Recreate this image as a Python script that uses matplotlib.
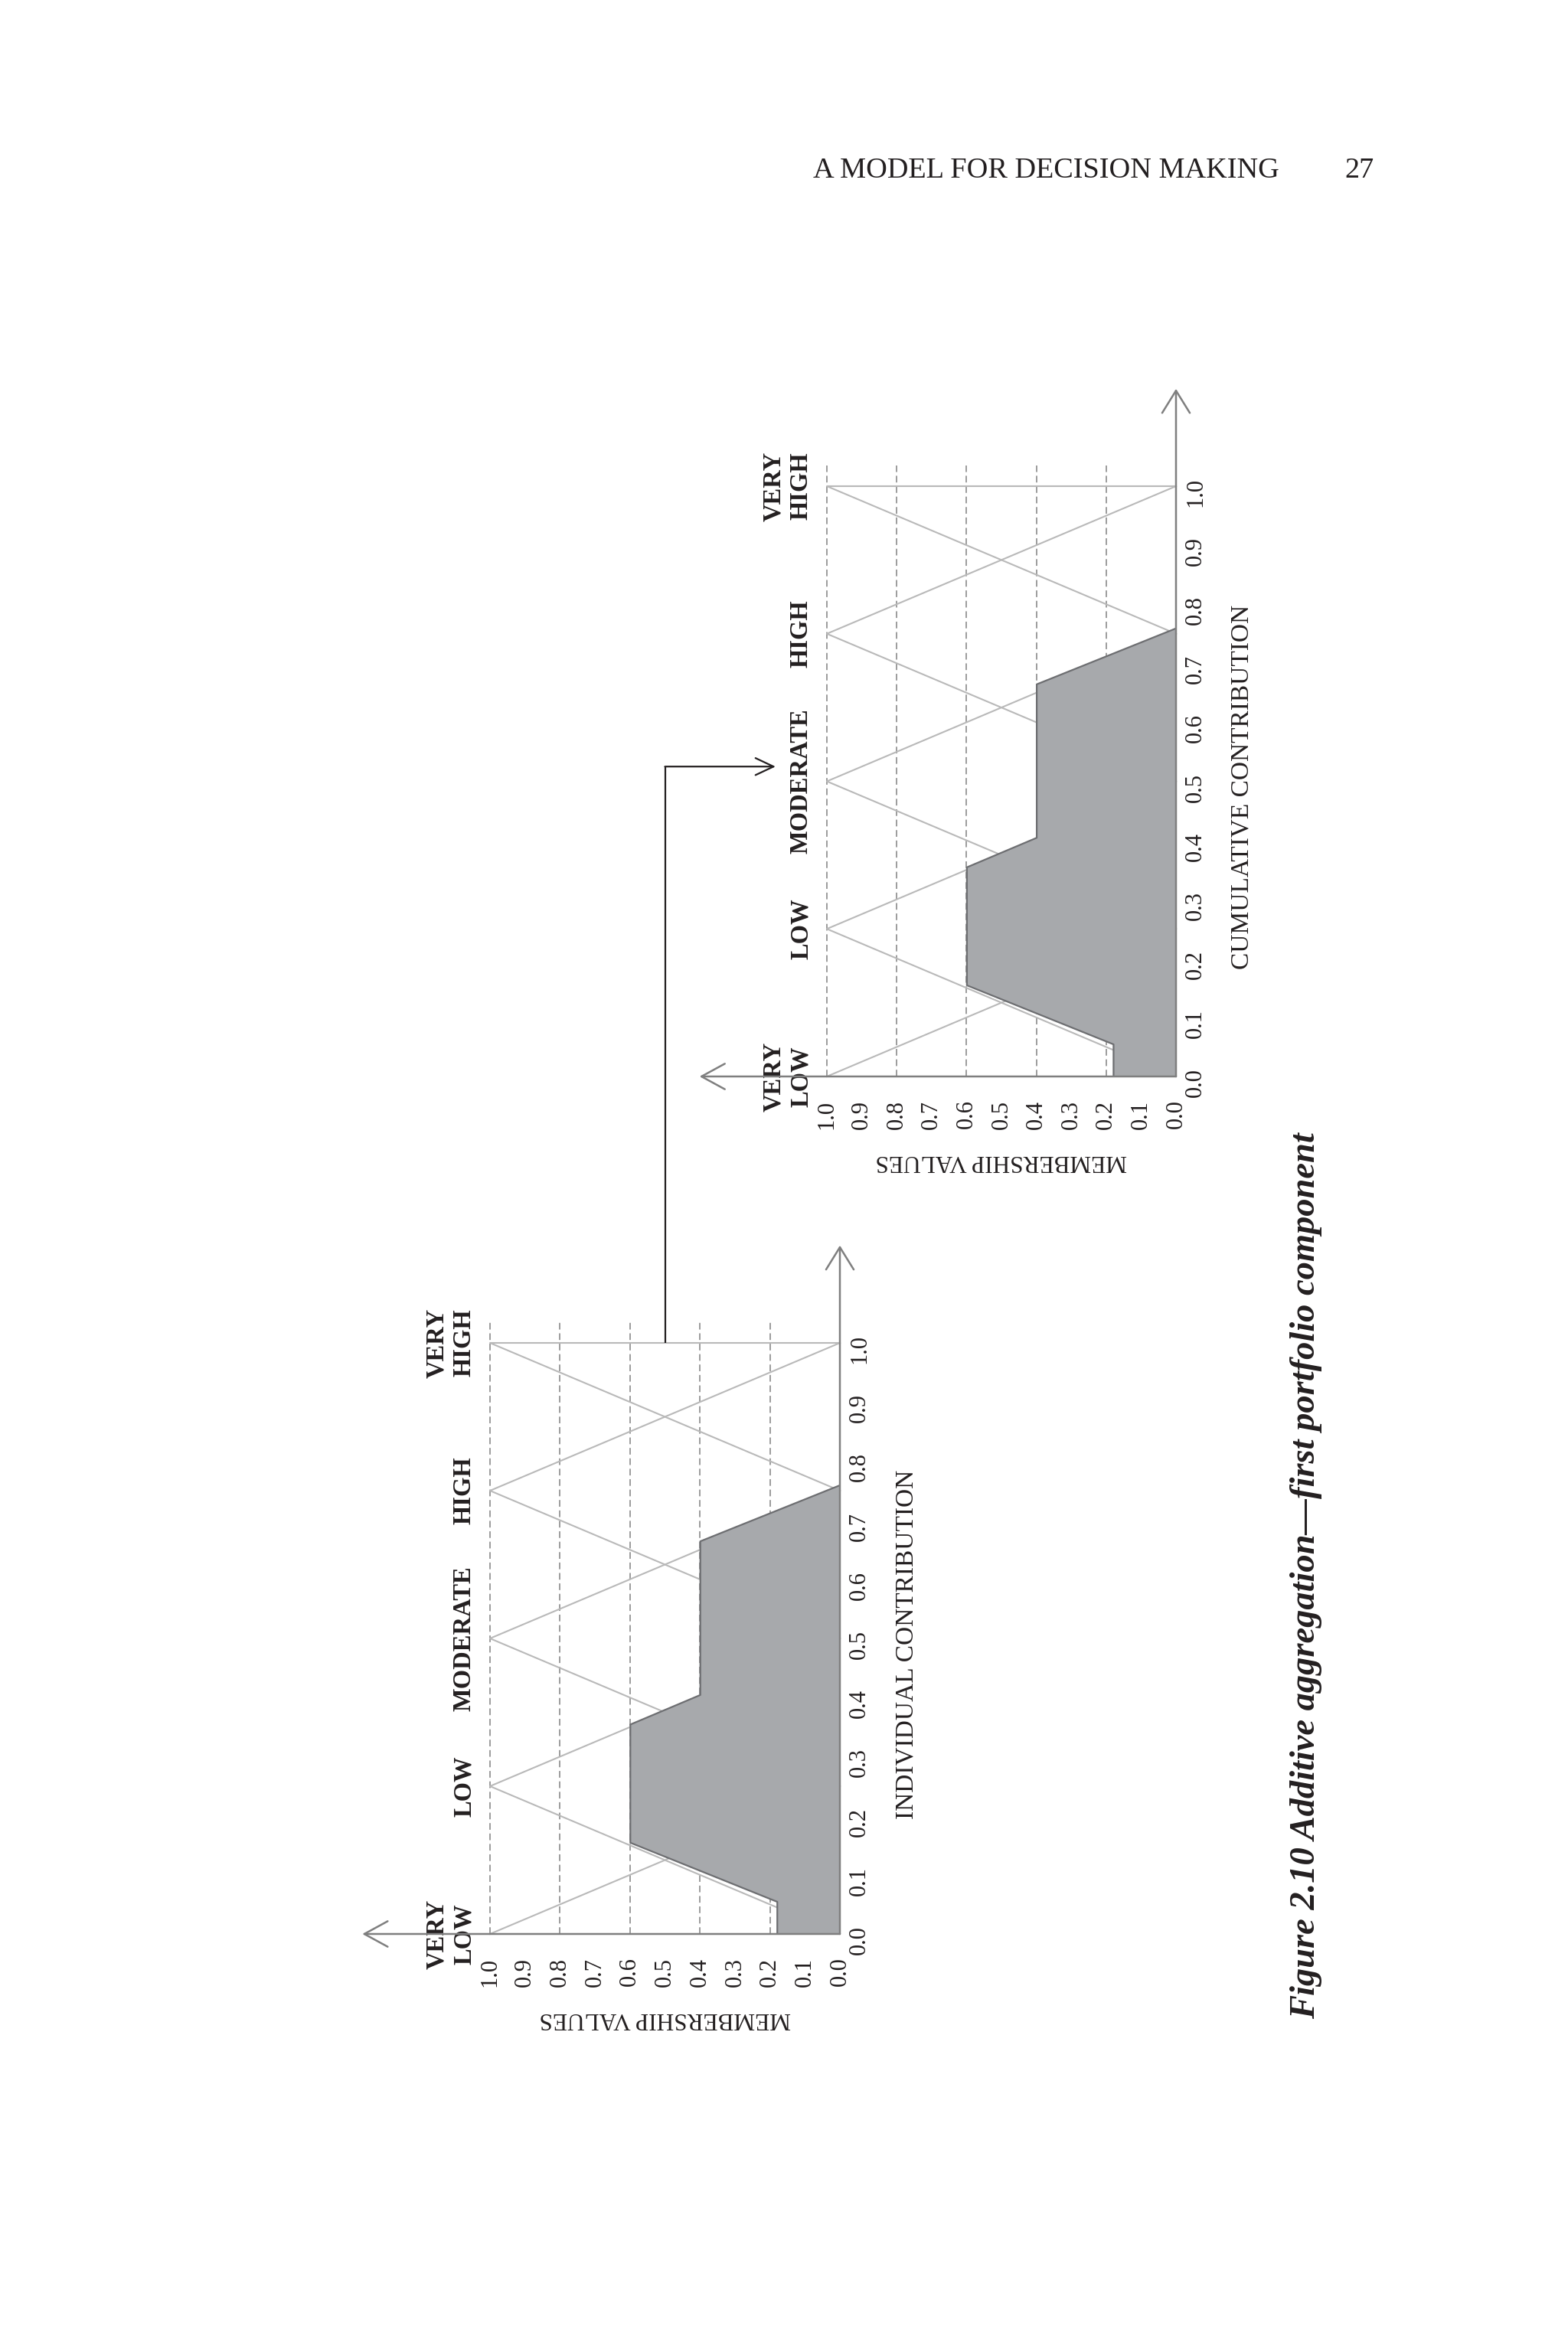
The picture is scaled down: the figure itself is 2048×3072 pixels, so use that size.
import matplotlib
matplotlib.use("Agg")
import matplotlib.pyplot as plt

plt.rcParams['font.family'] = ['Liberation Serif', 'DejaVu Serif']

# Linguistic terms and the peaks of their triangular membership functions
term_labels = ['VERY\nLOW', 'LOW', 'MODERATE', 'HIGH', 'VERY\nHIGH']
term_peaks = [0.0, 0.25, 0.5, 0.75, 1.0]
term_spread = 0.25

# Aggregated (clipped) output, first chart: individual contribution
individual_contribution = [0.0, 0.055, 0.155, 0.355, 0.405, 0.665, 0.76]
individual_membership = [0.18, 0.18, 0.6, 0.6, 0.4, 0.4, 0.0]

# Second chart: cumulative contribution
cumulative_contribution = [0.0, 0.055, 0.155, 0.355, 0.405, 0.665, 0.76]
cumulative_membership = [0.18, 0.18, 0.6, 0.6, 0.4, 0.4, 0.0]

tick_values = [0.0, 0.1, 0.2, 0.3, 0.4, 0.5, 0.6, 0.7, 0.8, 0.9, 1.0]
grid_levels = [0.2, 0.4, 0.6, 0.8, 1.0]

axis_col = '#7f7f7f'
tri_col = '#b9b9b9'
grid_col = '#9c9c9c'
fill_col = '#a7a9ac'
edge_col = '#6d6e71'
ink = '#231f20'


def draw_chart(ax, contrib, member, xlabel):
    # rotated chart: membership runs right-to-left, contribution runs upward
    ax.set_xlim(1, 0)
    ax.set_ylim(0, 1)
    for s in ax.spines.values():
        s.set_visible(False)

    # dashed membership levels
    for lev in grid_levels:
        ax.plot([lev, lev], [0, 1.035], color=grid_col, lw=1.4,
                linestyle=(0, (4.5, 2.5)), clip_on=False, zorder=1)

    # triangular membership functions
    for p in term_peaks:
        cs = [p - term_spread, p, p + term_spread]
        ms = [0, 1, 0]
        pts = [(c, m) for c, m in zip(cs, ms) if 0 <= c <= 1]
        if p == 1.0:
            pts.append((1.0, 0))
        ax.plot([m for c, m in pts], [c for c, m in pts], color=tri_col,
                lw=1.5, clip_on=False, zorder=2)

    # aggregated output
    ax.fill_betweenx(contrib, member, 0, facecolor=fill_col, edgecolor=edge_col,
                     lw=1.6, zorder=3)

    # axes with open arrow heads
    ax.annotate('', xy=(0, 1.165), xytext=(0, 0), annotation_clip=False,
                arrowprops=dict(arrowstyle='->,head_length=2.1,head_width=1.3',
                                mutation_scale=10, color=axis_col, lw=1.8,
                                shrinkA=0, shrinkB=0), zorder=4)
    ax.annotate('', xy=(1.365, 0), xytext=(0, 0), annotation_clip=False,
                arrowprops=dict(arrowstyle='->,head_length=2.2,head_width=1.2',
                                mutation_scale=10, color=axis_col, lw=1.8,
                                shrinkA=0, shrinkB=0), zorder=4)

    # ticks
    ax.set_xticks(tick_values)
    ax.set_xticklabels([f'{v:.1f}' for v in tick_values])
    ax.yaxis.tick_right()
    ax.set_yticks(tick_values)
    ax.set_yticklabels([f'{v:.1f}' for v in tick_values])
    ax.tick_params(axis='x', length=0, pad=22, labelrotation=90, labelsize=22,
                   labelcolor=ink)
    ax.tick_params(axis='y', length=0, pad=8, labelrotation=90, labelsize=22,
                   labelcolor=ink)

    # term names
    for name, p in zip(term_labels, term_peaks):
        ax.text(1.04, p, name, rotation=90, ha='right', va='center',
                multialignment='center', fontsize=23.5, fontweight='bold',
                color=ink, linespacing=1.2)

    ax.text(0.5, -0.143, 'MEMBERSHIP VALUES', transform=ax.transAxes,
            rotation=180, ha='center', va='center', fontsize=22.5, color=ink)
    ax.text(1.19, 0.49, xlabel, transform=ax.transAxes, rotation=90,
            ha='center', va='center', fontsize=24, color=ink)


fig = plt.figure(figsize=(20.48, 30.72), dpi=100)
W, H = 2048, 3072

ax1 = fig.add_axes([640 / W, 1 - 2526 / H, 457 / W, 772 / H])
ax2 = fig.add_axes([1080 / W, 1 - 1406 / H, 456 / W, 771 / H])

draw_chart(ax1, individual_contribution, individual_membership,
           'INDIVIDUAL CONTRIBUTION')
draw_chart(ax2, cumulative_contribution, cumulative_membership,
           'CUMULATIVE CONTRIBUTION')

# elbow arrow from the top of the first chart into the second one
start_px = ax1.transData.transform((0.5, 1.0))
tip_px = ax2.transData.transform((1.147, 0.525))
inv2 = ax2.transData.inverted()
corner = inv2.transform((start_px[0], tip_px[1]))
start = inv2.transform(start_px)
ax2.plot([start[0], corner[0]], [start[1], corner[1]], color=ink, lw=1.6,
         clip_on=False, solid_capstyle='butt')
ax2.annotate('', xy=(1.147, 0.525), xytext=(corner[0], corner[1]),
             annotation_clip=False,
             arrowprops=dict(arrowstyle='->,head_length=1.7,head_width=0.8',
                             mutation_scale=10, color=ink, lw=1.6,
                             shrinkA=0, shrinkB=0))

# running head and caption
fig.text(1062 / W, 1 - 232 / H, 'A MODEL FOR DECISION MAKING', fontsize=27.5,
         va='baseline', ha='left', color=ink)
fig.text(1756 / W, 1 - 232 / H, '27', fontsize=27.5, va='baseline', ha='left',
         color=ink)
fig.text(1706 / W, 1 - 2058 / H,
         'Figure 2.10 Additive aggregation\u2014first portfolio component',
         rotation=90, ha='center', va='center', fontsize=33.5,
         fontweight='bold', fontstyle='italic', color=ink)

fig.savefig('out.png', dpi=100, facecolor='white')
